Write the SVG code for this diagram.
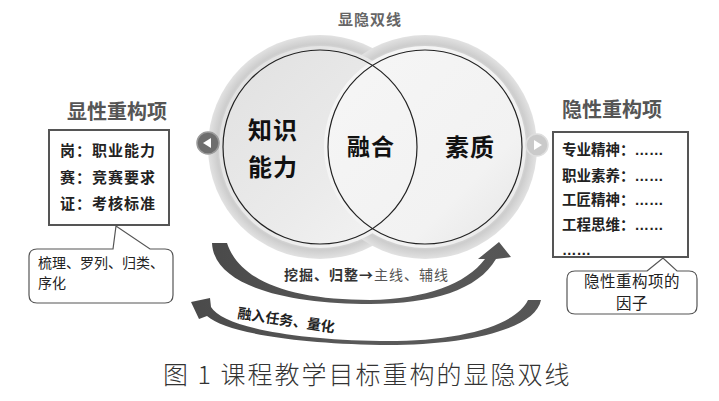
<svg xmlns="http://www.w3.org/2000/svg" width="719" height="401" viewBox="0 0 719 401">
<defs>
<radialGradient id="ring" cx="0.5" cy="0.5" r="0.5">
<stop offset="0" stop-color="#ececec"/>
<stop offset="0.84" stop-color="#e6e6e6"/>
<stop offset="0.92" stop-color="#cdcdcd"/>
<stop offset="1" stop-color="#e2e2e2"/>
</radialGradient>
<linearGradient id="inL" x1="0" y1="0" x2="1" y2="1">
<stop offset="0" stop-color="#e0e0e0"/>
<stop offset="0.6" stop-color="#ebebeb"/>
<stop offset="1" stop-color="#f5f5f5"/>
</linearGradient>
<linearGradient id="inR" x1="0" y1="0" x2="1" y2="1">
<stop offset="0" stop-color="#f6f6f6"/>
<stop offset="0.7" stop-color="#f2f2f2"/>
<stop offset="1" stop-color="#e4e4e4"/>
</linearGradient>
<linearGradient id="arr" x1="0" y1="0" x2="1" y2="0">
<stop offset="0" stop-color="#4a4a4a"/>
<stop offset="0.5" stop-color="#5a5a5a"/>
<stop offset="1" stop-color="#555"/>
</linearGradient>
</defs>
<style>
.b{font-family:"Noto Sans CJK SC","Noto Sans",sans-serif;font-weight:bold;fill:#111}
.n{font-family:"Noto Sans CJK SC","Noto Sans",sans-serif;font-weight:normal;fill:#222}
.title{font-family:"Noto Sans CJK SC","Noto Sans",sans-serif;font-weight:bold;fill:#555;font-size:20px}
.box{fill:#fff;stroke:#555;stroke-width:2}
.call{fill:#fff;stroke:#555;stroke-width:1.2}
.vc{fill:none;stroke:#222;stroke-width:1.2}
.dots{font-family:"Liberation Sans",sans-serif}
</style>
<rect width="719" height="401" fill="#fff"/>

<g id="venn">
<circle cx="320" cy="147" r="112" fill="url(#ring)"/>
<circle cx="425" cy="147" r="112" fill="url(#ring)"/>
<circle cx="320" cy="147" r="101" fill="url(#inL)"/>
<circle cx="425" cy="147" r="101" fill="url(#inR)"/>
<circle class="vc" cx="320" cy="147" r="97"/>
<circle class="vc" cx="425" cy="147" r="97"/>
<text class="b" x="370" y="25" font-size="15" text-anchor="middle" letter-spacing="1" style="fill:#666">显隐双线</text>
</g>
<g id="node-knowledge">
<text class="b" x="248" y="139" font-size="24" letter-spacing="1">知识</text>
<text class="b" x="248" y="176" font-size="24" letter-spacing="1">能力</text>
</g>
<g id="node-fusion">
<text class="b" x="371" y="155" font-size="23" text-anchor="middle" letter-spacing="1">融合</text>
</g>
<g id="node-quality">
<text class="b" x="470" y="156" font-size="24" text-anchor="middle" letter-spacing="1">素质</text>
</g>

<g id="buttons">
<circle cx="208" cy="143" r="11" fill="#6e6e6e" stroke="#9a9a9a" stroke-width="1.5"/>
<path d="M203 143 L211 138 L211 148 Z" fill="#fff"/>
<circle cx="537" cy="145" r="11" fill="#cacaca" stroke="#dedede" stroke-width="1.5"/>
<path d="M542 145 L534 140 L534 150 Z" fill="#fff"/>
</g>

<g id="explicit">
<text class="title" x="67" y="119">显性重构项</text>
<rect class="box" x="49" y="130" width="120" height="95"/>
<text class="b" x="60" y="156" font-size="15" letter-spacing="1" style="fill:#222">岗：职业能力</text>
<text class="b" x="60" y="183" font-size="15" letter-spacing="1" style="fill:#222">赛：竞赛要求</text>
<text class="b" x="60" y="209" font-size="15" letter-spacing="1" style="fill:#222">证：考核标准</text>
</g>
<g id="explicit-note">
<path class="call" d="M113 249 L116 226 L150 249 L165 249 Q173 249 173 257 L173 295 Q173 303 165 303 L37 303 Q29 303 29 295 L29 257 Q29 249 37 249 Z"/>
<text class="n" x="38" y="268" font-size="14">梳理、罗列、归类、<tspan x="38" dy="20">序化</tspan></text>
</g>

<g id="implicit">
<text class="title" x="562" y="117">隐性重构项</text>
<rect class="box" x="553" y="132" width="135" height="125"/>
<text class="b" x="562" y="155" font-size="14.5" style="fill:#222">专业精神：<tspan class="dots">……</tspan></text>
<text class="b" x="562" y="181" font-size="14.5" style="fill:#222">职业素养：<tspan class="dots">……</tspan></text>
<text class="b" x="562" y="205" font-size="14.5" style="fill:#222">工匠精神：<tspan class="dots">……</tspan></text>
<text class="b" x="562" y="230" font-size="14.5" style="fill:#222">工程思维：<tspan class="dots">……</tspan></text>
<text class="b dots" x="562" y="255" font-size="14.5" style="fill:#222">……</text>
</g>
<g id="implicit-note">
<path class="call" d="M647 271 L663 258 L677 271 L689 271 Q697 271 697 279 L697 306 Q697 314 689 314 L575 314 Q567 314 567 306 L567 279 Q567 271 575 271 Z"/>
<text class="n" x="632" y="287" font-size="15.5" text-anchor="middle" letter-spacing="0.5">隐性重构项的<tspan x="632" dy="21.5">因子</tspan></text>
</g>

<g id="connectors">
<path fill="url(#arr)" d="M212 243 C214 287 290 304 370 304 C432 304 478 290 496 259 L511 257 L499 242 L478 259 L485 259 C466 284 426 299 370 300 C292 300 240 282 227 243 Z"/>
<path fill="url(#arr)" d="M541 300 C535 331 460 346 380 345 C290 343 225 332 207 316 L199 319 L191 302 L210 298 L211 307 C222 326 290 340 380 341 C455 342 515 327 528 300 Z"/>
<text class="b" x="284" y="280" font-size="14" letter-spacing="1" style="fill:#333">挖掘、归整→<tspan style="fill:#555;font-weight:normal">主线、辅线</tspan></text>
<text class="b" x="237" y="318" font-size="14" transform="rotate(8.5 237 318)" style="fill:#222">融入任务、量化</text>
</g>

<text x="163" y="384" font-family="Noto Sans CJK SC, sans-serif" font-size="25" letter-spacing="2" fill="#333" font-weight="300">图 1 课程教学目标重构的显隐双线</text>
</svg>
